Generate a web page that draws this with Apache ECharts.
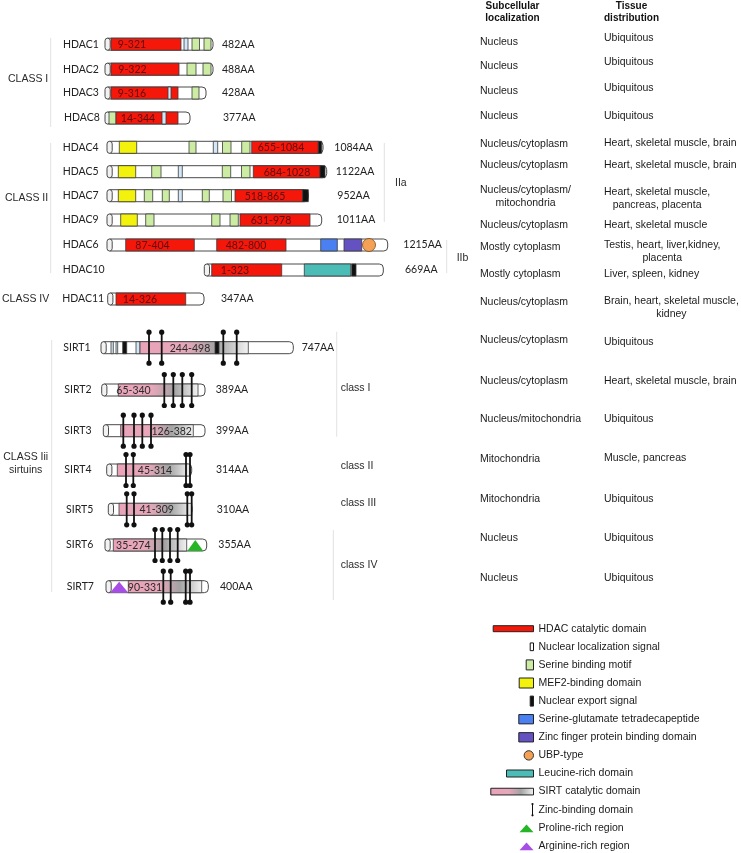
<!DOCTYPE html>
<html><head><meta charset="utf-8">
<script src="https://cdn.jsdelivr.net/npm/echarts@6/dist/echarts.min.js"></script>
<style>html,body{margin:0;padding:0;background:#fff}#c{width:741px;height:853px}</style>
</head><body><div id="c"></div>
<script>
// ================= DATA =================
const proteins = ['HDAC1','HDAC2','HDAC3','HDAC8','HDAC4','HDAC5','HDAC7','HDAC9','HDAC6','HDAC10','HDAC11',
  'SIRT1','SIRT2','SIRT3','SIRT4','SIRT5','SIRT6','SIRT7'];
const lengthsAA = [482,488,428,377,1084,1122,952,1011,1215,669,347,747,389,399,314,310,355,400];
const localization = ['Nucleus','Nucleus','Nucleus','Nucleus','Nucleus/cytoplasm','Nucleus/cytoplasm',
  'Nucleus/cytoplasm/\nmitochondria','Nucleus/cytoplasm','Mostly cytoplasm','Mostly cytoplasm','Nucleus/cytoplasm',
  'Nucleus/cytoplasm','Nucleus/cytoplasm','Nucleus/mitochondria','Mitochondria','Mitochondria','Nucleus','Nucleus'];
const tissue = ['Ubiquitous','Ubiquitous','Ubiquitous','Ubiquitous','Heart, skeletal muscle, brain',
  'Heart, skeletal muscle, brain','Heart, skeletal muscle,\npancreas, placenta','Heart, skeletal muscle',
  'Testis, heart, liver,kidney,\nplacenta','Liver, spleen, kidney','Brain, heart, skeletal muscle,\nkidney',
  'Ubiquitous','Heart, skeletal muscle, brain','Ubiquitous','Muscle, pancreas','Ubiquitous','Ubiquitous','Ubiquitous'];
const tableHeaders = ['Subcellular\nlocalization','Tissue\ndistribution'];

// Protein backbone extents on the diagram's drawn axis
const barStart = [105,105,105,105,107,107,107,107,107,204.3,107.7, 101,101.7,103.3,106.7,108.3,105,106];
const barEnd   = [213,213,206,190,323,326.7,308.3,321.7,387.7,383.3,204, 293.3,205,205,191.7,192,206.7,208.3];

// Domains: [protein index, kind, start, end, label]
const domains = [
 [0,'cat',111,181,'9-321'],[0,'nls',184,188],[0,'ser',192,199.5],[0,'ser',204,211],
 [1,'cat',111,179,'9-322'],[1,'ser',187,196],[1,'ser',203,211],
 [2,'cat',111,178,'9-316'],[2,'nls',168,171],[2,'ser',192,199],
 [3,'ser',109,116],[3,'cat',116,178,'14-344'],[3,'nls',162,166],
 [4,'mef',119.3,136.7],[4,'ser',189,196],[4,'nls',213.3,217.7],[4,'ser',222.5,231],[4,'ser',241.7,250],[4,'cat',251.7,318.3,'655-1084'],[4,'nes',318.3,321.7],
 [5,'mef',118.3,135.7],[5,'ser',151.7,161],[5,'nls',178.3,182.3],[5,'ser',222.3,230.7],[5,'ser',241.5,250],[5,'cat',253.3,320,'684-1028'],[5,'nes',320,325],
 [6,'mef',118.3,135.7],[6,'ser',144.3,152.7],[6,'ser',162.3,169.3],[6,'nls',178.3,182.3],[6,'ser',202.3,209.3],[6,'ser',223,231.5],[6,'cat',235,302.7,'518-865'],[6,'nes',302.7,308.3],
 [7,'mef',120.7,137.3],[7,'ser',145.7,154],[7,'ser',211.7,220],[7,'ser',230,238.3],[7,'cat',240,310,'631-978'],
 [8,'cat',125.7,194.3,'87-404'],[8,'cat',216.7,286,'482-800'],[8,'seg',320.7,337.3],[8,'znf',344,361.7],
 [9,'cat',211.7,281.7,'1-323'],[9,'leu',304.3,350.7],[9,'nes',351.7,356],
 [10,'cat',116,185.7,'14-326'],
 [11,'nls',111,113.3],[11,'nls',116,117.7],[11,'nes',122.7,126.7],[11,'nls',136,140],
 [11,'sirt',140,248.3,'244-498'],[11,'nes',215,219],
 [12,'sirt',118.3,198,'65-340'],
 [13,'sirt',120.7,193.3,'126-382'],
 [14,'sirt',117.3,190,'45-314'],
 [15,'sirt',119,191.7,'41-309'],
 [16,'sirt',113.3,186.7,'35-274'],[16,'pro',187.3,203.3],
 [17,'arg',110,128.3],[17,'sirt',128.3,201.7,'90-331']
];
const ubpSites = [[8,369]];
// Zinc-binding sites: [protein index, position]
const zincSites = [
 [11,149],[11,161.7],[11,223.3],[11,236.7],
 [12,164.3],[12,173.3],[12,182.3],[12,191.7],
 [13,123.3],[13,134],[13,142.3],[13,151],
 [14,126],[14,133.3],[14,186],[14,190],
 [15,126.7],[15,134],[15,187.3],[15,191.7],
 [16,155],[16,162.3],[16,170],[16,177.7],
 [17,163.3],[17,170.7],[17,185.7],[17,190]
];
const classLabels = ['CLASS I','CLASS II','CLASS IV','CLASS Iii\nsirtuins','IIa','IIb','class I','class II','class III','class IV'];
const legendLabels = ['HDAC catalytic domain','Nuclear localization signal','Serine binding motif','MEF2-binding domain',
  'Nuclear export signal','Serine-glutamate tetradecapeptide','Zinc finger protein binding domain','UBP-type',
  'Leucine-rich domain','SIRT catalytic domain','Zinc-binding domain','Proline-rich region','Arginine-rich region'];
const legendKinds = ['cat','nls','ser','mef','nes','seg','znf','ubp','leu','sirt','zinc','pro','arg'];

// ================= LAYOUT =================
const rowY = [44.2,69.2,93,118,147.3,171.7,195.7,220,245,270,299, 347.7,390,430.7,470,509.3,545,586.7];
const nameX = [63,63,63,64,62.7,62.7,62.7,62.7,62.7,62.7,62.3, 63.3,64.3,64.3,64.3,66,66,66.7];
const aaX = [222,222,222,223,334.3,335.7,337.3,336.7,403.3,405,221, 301.7,215.7,216,216,216.7,218.3,220];
const locY = [41.7,65.7,90.7,115.7,144,165,196.7,225,246.7,274,301.7, 340,381,419,459,499,538.3,578.3];
const tisY = [38.3,62.3,88.3,115.7,142.7,165,198.7,225,252,274,307.9, 341.7,381,419,457.7,499,538.3,578.3];
const locX = 480, tisX = 604, headerCX = [512.5, 631.5], headerY = 12.2;
// label centre positions for catalytic domain texts (same order as labelled domains)
const domainLabelX = {'9-321':132,'9-322':132.5,'9-316':132,'14-344':138,'655-1084':281,'684-1028':287,'518-865':265,
  '631-978':271,'87-404':152.5,'482-800':246,'1-323':235,'14-326':140,'244-498':190,'65-340':133.5,'126-382':171.7,
  '45-314':155,'41-309':156.7,'35-274':133.3,'90-331':145};
const classPos = [[8,79,'left'],[5,197.7,'left'],[2,299,'left'],[25.7,463.3,'center'],[395,183.3,'left'],[456.7,257.7,'left'],
  [340.7,388.3,'left'],[340.7,466,'left'],[340.7,502.7,'left'],[340.7,565,'left']];
const separators = [[50.7,38,127],[50.7,143,273],[51.7,340,592],[384.3,143,222],[446.7,240,273],[336.7,331.7,436.7],[333.3,530,600]];
const legendY0 = 628.7, legendStep = 18.1, legendRight = 533.5, legendTextX = 538.5;
const legendSize = {cat:[40.3,6],nls:[3.3,7.7],ser:[7.3,10],mef:[14.3,10],nes:[3.3,10],seg:[14.7,9.3],znf:[14.7,9.3],
  ubp:[9.4,9.4],leu:[27,7],sirt:[42.7,6.7],zinc:[2,11.3],pro:[14,8.7],arg:[14,8.7]};
const BAR_H = 12, ZINC_HALF = 15.5;

// ================= STYLE =================
const fills = {cat:'#f6170b',nls:'#d3e7f6',ser:'#cdeca3',mef:'#f2f20c',nes:'#111111',seg:'#4a80f2',znf:'#6552c2',
  leu:'#4cbcb6',ubp:'#f4a155',pro:'#26b526',arg:'#a64ee6'};
const sirtGrad = () => new echarts.graphic.LinearGradient(0,0,1,0,[
  {offset:0,color:'#e9a3b9'},{offset:0.42,color:'#e7a7ba'},{offset:0.7,color:'#a3a3a3'},{offset:1,color:'#f3f3f3'}]);
const STROKE = '#3a3a3a';
const LBL_FONT = '10.5px Lato, "Open Sans", sans-serif';
const DOM_FONT = '10.5px Lato, "Open Sans", sans-serif';
const TXT_FONT = '10.5px "Liberation Sans", Arial, sans-serif';
const HDR_FONT = 'bold 10px "Liberation Sans", Arial, sans-serif';

const measCtx = document.createElement('canvas').getContext('2d');
function textW(str, font){ measCtx.font = font; return Math.max(...str.split('\n').map(s=>measCtx.measureText(s).width)); }

// ================= RENDER =================
const chart = echarts.init(document.getElementById('c'));
function idx(n){ return Array.from({length:n},(_,i)=>[i]); }

function shapeFor(kind, api, x0, x1, y, h){
  const a = api.coord([x0,y]), b = api.coord([x1,y]);
  const hh = api.size([0,h])[1];
  const x = a[0], w = b[0]-a[0], top = a[1]-hh/2;
  if (kind === 'sirt') return {type:'rect', shape:{x, y:top, width:w, height:hh}, style:{fill:sirtGrad(), stroke:STROKE, lineWidth:0.8}};
  if (kind === 'pro' || kind === 'arg') return {type:'polygon', shape:{points:[[x,top+hh],[x+w/2,top+1],[x+w,top+hh]]}, style:{fill:fills[kind], stroke:null}};
  if (kind === 'ubp') { const r = hh/2; return {type:'circle', shape:{cx:x+w/2, cy:a[1], r}, style:{fill:fills.ubp, stroke:'#7a4a1a', lineWidth:0.8}}; }
  if (kind === 'zinc') {
    const p0 = api.coord([x0, y-h/2]), p1 = api.coord([x0, y+h/2]);
    return {type:'group', children:[
      {type:'line', shape:{x1:p0[0],y1:p0[1],x2:p1[0],y2:p1[1]}, style:{stroke:'#111', lineWidth:1.8}},
      {type:'circle', shape:{cx:p0[0],cy:p0[1],r:2.6}, style:{fill:'#111'}},
      {type:'circle', shape:{cx:p1[0],cy:p1[1],r:2.6}, style:{fill:'#111'}}]};
  }
  return {type:'rect', shape:{x, y:top, width:w, height:hh}, style:{fill:fills[kind], stroke:STROKE, lineWidth:0.8}};
}

const series = [];
// backbones
series.push({type:'custom', z:1, data: idx(proteins.length), renderItem(params, api){
  const i = params.dataIndex, y = rowY[i];
  const a = api.coord([barStart[i], y]), b = api.coord([barEnd[i], y]);
  const hh = api.size([0,BAR_H])[1], cap = 2.6;
  return {type:'group', children:[
    {type:'rect', shape:{x:a[0]+cap, y:a[1]-hh/2, width:b[0]-a[0]-cap, height:hh, r:[0,4,4,0]}, style:{fill:'#fff', stroke:'#4a4a4a', lineWidth:1}},
    {type:'rect', shape:{x:a[0], y:a[1]-hh/2, width:cap*2, height:hh, r:cap}, style:{fill:'#f2f2f2', stroke:'#4a4a4a', lineWidth:1}}
  ]};
}});
// domains
series.push({type:'custom', z:2, data: idx(domains.length), renderItem(params, api){
  const d = domains[params.dataIndex];
  const el = shapeFor(d[1], api, d[2], d[3], rowY[d[0]], BAR_H);
  if (d[4]) {
    const p = api.coord([domainLabelX[d[4]], rowY[d[0]]]);
    return {type:'group', children:[el, {type:'text', x:p[0], y:p[1]+0.5, style:{text:d[4], font:DOM_FONT,
      fill: d[1]==='cat' ? '#5a0f0f' : '#2a2a2a', align:'center', verticalAlign:'middle'}}]};
  }
  return el;
}});
// UBP
series.push({type:'custom', z:3, data: idx(ubpSites.length), renderItem(params, api){
  const s = ubpSites[params.dataIndex];
  const p = api.coord([s[1], rowY[s[0]]]);
  const r = api.size([0,13])[1]/2;
  return {type:'circle', shape:{cx:p[0],cy:p[1],r}, style:{fill:fills.ubp, stroke:'#7a4a1a', lineWidth:0.8}};
}});
// zinc sites
series.push({type:'custom', z:4, data: idx(zincSites.length), renderItem(params, api){
  const s = zincSites[params.dataIndex];
  return shapeFor('zinc', api, s[1], s[1], rowY[s[0]], ZINC_HALF*2);
}});
// protein names and AA lengths
series.push({type:'custom', z:5, data: idx(proteins.length), renderItem(params, api){
  const i = params.dataIndex;
  const p = api.coord([nameX[i], rowY[i]]), q = api.coord([aaX[i], rowY[i]]);
  return {type:'group', children:[
    {type:'text', x:p[0], y:p[1], style:{text:proteins[i], font:LBL_FONT, fill:'#222', align:'left', verticalAlign:'middle'}},
    {type:'text', x:q[0], y:q[1], style:{text:lengthsAA[i]+'AA', font:LBL_FONT, fill:'#222', align:'left', verticalAlign:'middle'}}
  ]};
}});
// table
function tableCell(api, str, left, y){
  const multi = str.indexOf('\n') >= 0;
  const w = textW(str, TXT_FONT);
  const p = api.coord([left, y]);
  return {type:'text', x: multi ? p[0]+w/2 : p[0], y:p[1], style:{text:str, font:TXT_FONT, fill:'#1a1a1a',
    align: multi ? 'center' : 'left', verticalAlign:'middle', lineHeight:13}};
}
series.push({type:'custom', z:5, data: idx(proteins.length), renderItem(params, api){
  const i = params.dataIndex;
  return {type:'group', children:[tableCell(api, localization[i], locX, locY[i]), tableCell(api, tissue[i], tisX, tisY[i])]};
}});
series.push({type:'custom', z:5, data: idx(tableHeaders.length), renderItem(params, api){
  const i = params.dataIndex;
  const p = api.coord([headerCX[i], headerY]);
  return {type:'text', x:p[0], y:p[1], style:{text:tableHeaders[i], font:HDR_FONT, fill:'#111', align:'center', verticalAlign:'middle', lineHeight:12.3}};
}});
// class labels
series.push({type:'custom', z:5, data: idx(classLabels.length), renderItem(params, api){
  const i = params.dataIndex, c = classPos[i];
  const p = api.coord([c[0], c[1]]);
  return {type:'text', x:p[0], y:p[1], style:{text:classLabels[i], font:TXT_FONT, fill:'#2a2a2a', align:c[2], verticalAlign:'middle', lineHeight:13.3}};
}});
// separators
series.push({type:'custom', z:0, data: idx(separators.length), renderItem(params, api){
  const s = separators[params.dataIndex];
  const a = api.coord([s[0], s[1]]), b = api.coord([s[0], s[2]]);
  return {type:'line', shape:{x1:a[0],y1:a[1],x2:b[0],y2:b[1]}, style:{stroke:'#e2e2e2', lineWidth:1}};
}});
// legend
series.push({type:'custom', z:5, data: idx(legendLabels.length), renderItem(params, api){
  const i = params.dataIndex, k = legendKinds[i], sz = legendSize[k];
  const y = legendY0 + i*legendStep;
  const x0 = legendRight - sz[0];
  let sw;
  if (k === 'zinc') {
    const a = api.coord([x0+1, y - sz[1]/2]), b = api.coord([x0+1, y + sz[1]/2]);
    sw = {type:'group', children:[
      {type:'line', shape:{x1:a[0],y1:a[1],x2:b[0],y2:b[1]}, style:{stroke:'#111', lineWidth:1}},
      {type:'circle', shape:{cx:a[0],cy:a[1],r:1.1}, style:{fill:'#111'}},
      {type:'circle', shape:{cx:b[0],cy:b[1],r:1.1}, style:{fill:'#111'}}]};
  } else if (k === 'nls') {
    const a = api.coord([x0, y]), b = api.coord([legendRight, y]); const hh = api.size([0,sz[1]])[1];
    sw = {type:'rect', shape:{x:a[0],y:a[1]-hh/2,width:b[0]-a[0],height:hh}, style:{fill:'#fff', stroke:'#111', lineWidth:1}};
  } else if (k === 'ubp') {
    const p = api.coord([x0+sz[0]/2, y]);
    sw = {type:'circle', shape:{cx:p[0],cy:p[1],r:sz[0]/2}, style:{fill:fills.ubp, stroke:'#333', lineWidth:1}};
  } else {
    sw = shapeFor(k, api, x0, legendRight, y, sz[1]);
    if (sw.style && k !== 'pro' && k !== 'arg') { sw.style.lineWidth = 1; sw.style.stroke = '#222'; }
  }
  const t = api.coord([legendTextX, y]);
  return {type:'group', children:[sw, {type:'text', x:t[0], y:t[1], style:{text:legendLabels[i], font:TXT_FONT, fill:'#1a1a1a', align:'left', verticalAlign:'middle'}}]};
}});

chart.setOption({
  animation:false,
  grid:{left:0,right:0,top:0,bottom:0},
  xAxis:{type:'value', min:0, max:741, show:false},
  yAxis:{type:'value', min:0, max:853, inverse:true, show:false},
  series
});
</script>
</body></html>
